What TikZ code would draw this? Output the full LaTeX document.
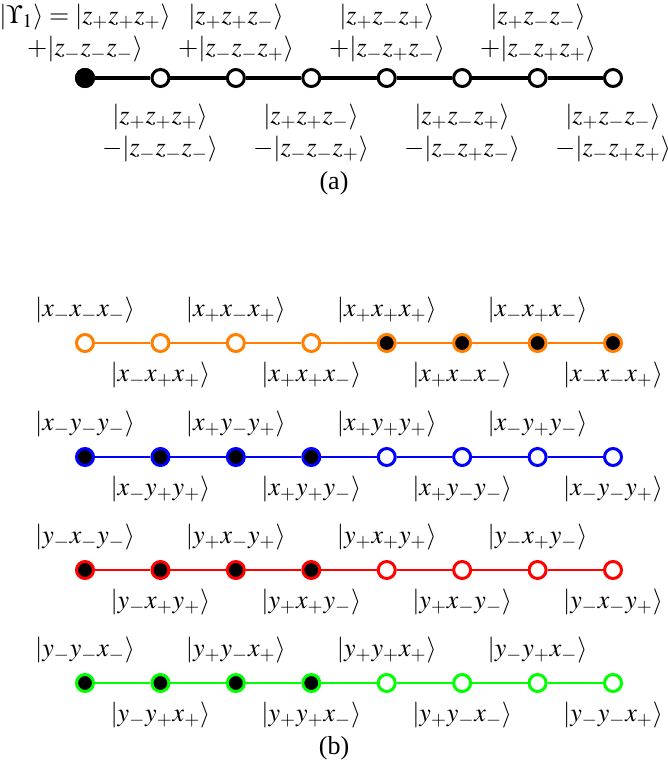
\documentclass[tikz,border=0pt]{standalone}
\usepackage{mathptmx}
\usepackage{fontspec}
\setmainfont{Liberation Serif}
\usepackage{tikz}
\usepackage{xcolor}
\usetikzlibrary{positioning}
\definecolor{ChainOrange}{HTML}{FF8000}
\definecolor{ChainBlue}{HTML}{0000FF}
\definecolor{ChainRed}{HTML}{FF0000}
\definecolor{ChainGreen}{HTML}{00FF00}
\newcommand{\kt}[1]{|#1\rangle}

\begin{document}
\begin{tikzpicture}[x=0.5pt,y=-0.5pt,
          v/.style={circle,draw=#1,line width=1.5pt,fill=white,
                    inner sep=0pt,minimum size=8.5pt},
          lbl/.style={inner sep=0pt,align=center,
                      font=\fontsize{13}{16}\selectfont},
          captxt/.style={inner sep=0pt,font=\fontsize{13}{16}\selectfont}]
        \useasboundingbox (0,0) rectangle (668,771);
        % (a) chain
        \foreach \i in {0,...,7}
          \node[v=black] (a\i) at (85+75.43*\i,78) {};
        \node[v=black,fill=black] at (a0) {};
        \foreach \i [remember=\i as \j (initially 0)] in {1,...,7}
          \draw[black,line width=1.6pt] (a\j)--(a\i);
        \node[lbl] (at0) at (85,33)  {$\kt{\Upsilon_1}=\kt{z_+z_+z_+}$\\$+\kt{z_-z_-z_-}$};
        \node[lbl] (at1) at (236,33) {$\kt{z_+z_+z_-}$\\$+\kt{z_-z_-z_+}$};
        \node[lbl] (at2) at (387,33) {$\kt{z_+z_-z_+}$\\$+\kt{z_-z_+z_-}$};
        \node[lbl] (at3) at (538,33) {$\kt{z_+z_-z_-}$\\$+\kt{z_-z_+z_+}$};
        \node[lbl] (ab0) at (160,133) {$\kt{z_+z_+z_+}$\\$-\kt{z_-z_-z_-}$};
        \node[lbl] (ab1) at (311,133) {$\kt{z_+z_+z_-}$\\$-\kt{z_-z_-z_+}$};
        \node[lbl] (ab2) at (462,133) {$\kt{z_+z_-z_+}$\\$-\kt{z_-z_+z_-}$};
        \node[lbl] (ab3) at (613,133) {$\kt{z_+z_-z_-}$\\$-\kt{z_-z_+z_+}$};
        \node[captxt] (capa) at (334,183) {(a)};
        % (b) chains
        \foreach \r/\col/\y/\A/\B/\C/\fa/\fb in
            {o/ChainOrange/343/x/x/x/white/black,
             b/ChainBlue/457/x/y/y/black/white,
             r/ChainRed/570/y/x/y/black/white,
             g/ChainGreen/683/y/y/x/black/white}{
          \foreach \i/\s/\t/\u in {0/-/-/-,1/-/+/+,2/+/-/+,3/+/+/-,
                                   4/+/+/+,5/+/-/-,6/-/+/-,7/-/-/+}{
            \ifnum\i<4 \def\f{\fa}\else\def\f{\fb}\fi
            \node[v=\col,fill=\f] (\r\i) at (85+75.43*\i,\y) {};
            \ifodd\i
              \node[lbl] (\r l\i) at (85+75.43*\i,\y+32) {$\kt{\A_\s\B_\t\C_\u}$};
            \else
              \node[lbl] (\r l\i) at (85+75.43*\i,\y-33) {$\kt{\A_\s\B_\t\C_\u}$};
            \fi
          }
          \foreach \i [remember=\i as \j (initially 0)] in {1,...,7}
            \draw[\col,line width=1.4pt] (\r\j)--(\r\i);
        }
        \node[captxt] (capb) at (334,748) {(b)};
      \end{tikzpicture}
\end{document}
